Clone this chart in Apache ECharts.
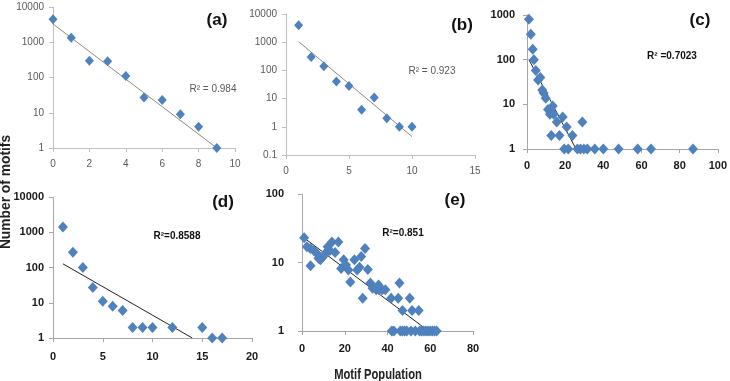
<!DOCTYPE html>
<html>
<head>
<meta charset="utf-8">
<script src="https://cdn.jsdelivr.net/npm/echarts@6/dist/echarts.min.js"></script>
<style>
  html, body { margin: 0; padding: 0; background: #fff; }
  #main { width: 730px; height: 381px; }
</style>
</head>
<body>
<div id="main"></div>
<script>
// panel (a)
var aX = [0, 1, 2, 3, 4, 5, 6, 7, 8, 9];
var aY = [4500, 1350, 300, 290, 110, 27, 23, 9, 4, 1];
var aTrendX = [0, 9];
var aTrendY = [3300, 1];

// panel (b)
var bX = [1, 2, 3, 4, 5, 6, 7, 8, 9, 10];
var bY = [4000, 300, 140, 40, 28, 4, 11, 2, 1, 1];
var bTrendX = [1, 10];
var bTrendY = [1050, 0.45];

// panel (c)
var cX = [1, 2, 3, 3.6, 4.6, 5.8, 7, 8, 8.7, 9.8, 11, 12, 12.7, 13.5, 14, 15.6, 17, 18.7, 20.8, 23.8, 29,
          19.5, 21.6, 26.4, 28, 29.8, 31.6, 35.5, 40, 48, 58, 65, 87];
var cY = [800, 370, 170, 100, 57, 35, 40, 21, 18, 13.6, 7.7, 6, 2, 9.2, 6, 4, 2, 5.2, 3.1, 2, 4,
          1, 1, 1, 1, 1, 1, 1, 1, 1, 1, 1, 1];
var cTrendX = [1, 25.7];
var cTrendY = [100, 1];

// panel (d)
var dX = [1, 2, 3, 4, 5, 6, 7, 8, 9, 10, 12, 15, 16, 17];
var dY = [1400, 270, 100, 27, 11, 8, 6, 2, 2, 2, 2, 2, 1, 1];
var dTrendX = [1, 14];
var dTrendY = [127, 1];

// panel (e)
var eX = [1, 2.3, 3.9, 5.5, 4, 7, 7.7, 8.6, 9.7, 10.5, 12, 13, 14, 15.5, 17, 11.7, 18.3, 19.5,
          20.6, 21.7, 22.6, 24.5, 25.8, 26.9, 27.7, 29.5, 30.8, 28.4, 32, 33, 34.7, 36, 37.5, 39,
          35.8, 41.7, 45, 45.6, 47, 50.4, 51.5, 54.6,
          42, 43, 46, 47, 48, 49, 51, 53, 55, 56, 57, 58, 59, 60, 61, 62, 63];
var eY = [23, 17, 16, 15, 9, 13.5, 11.5, 11, 12, 13, 17, 15, 20, 14, 20, 14.5, 8.2, 11,
          9.2, 7.8, 5.2, 11, 7.8, 8.5, 12.2, 16, 7.9, 3, 5, 4.2, 4, 4, 4, 4,
          4.7, 3, 3, 5, 2, 3, 2, 2,
          1, 1, 1, 1, 1, 1, 1, 1, 1, 1, 1, 1, 1, 1, 1, 1, 1];
var eTrendX = [0.3, 59.2];
var eTrendY = [23.7, 1];

var panelLabels = ['(a)', '(b)', '(c)', '(d)', '(e)'];
var r2Labels = ['R\u00b2 = 0.984', 'R\u00b2 = 0.923', 'R\u00b2 =0.7023', 'R\u00b2=0.8588', 'R\u00b2=0.851'];

var echart = echarts.init(document.getElementById('main'));

function pairs(xs, ys) {
    return xs.map(function (x, i) { return [x, ys[i]]; });
}
function logFmt(v) {
    return String(Math.round(v * 10) / 10);
}

var light = { color: '#595959', fontSize: 10, fontFamily: 'Liberation Sans' };
var bold = { color: '#1a1a1a', fontSize: 11, fontWeight: 'bold', fontFamily: 'Liberation Sans' };

var panels = [
    { grid: { left: 53, top: 7, width: 182, height: 141 }, x: [0, 10, 2], y: [1, 10000], st: light, axc: '#bfbfbf',
      xs: aX, ys: aY, tx: aTrendX, ty: aTrendY, lc: '#8c8a7c', ym: 9, xm: 11, ms: [9, 10] },
    { grid: { left: 286, top: 14, width: 189, height: 141 }, x: [0, 15, 5], y: [0.1, 10000], st: light, axc: '#bfbfbf',
      xs: bX, ys: bY, tx: bTrendX, ty: bTrendY, lc: '#8c8a7c', ym: 9, xm: 11, ms: [9, 10] },
    { grid: { left: 527, top: 15, width: 194, height: 134 }, x: [0, 100, 20], y: [1, 1000], st: bold, axc: '#a6a6a6',
      xs: cX, ys: cY, tx: cTrendX, ty: cTrendY, lc: '#222', ym: 12, xm: 11, ms: [10, 11] },
    { grid: { left: 53, top: 197, width: 199, height: 141 }, x: [0, 20, 5], y: [1, 10000], st: bold, axc: '#a6a6a6',
      xs: dX, ys: dY, tx: dTrendX, ty: dTrendY, lc: '#222', ym: 9, xm: 13, ms: [10, 11] },
    { grid: { left: 302, top: 194, width: 171, height: 137 }, x: [0, 80, 20], y: [1, 100], st: bold, axc: '#a6a6a6',
      xs: eX, ys: eY, tx: eTrendX, ty: eTrendY, lc: '#222', ym: 18, xm: 12, ms: [10, 11] }
];

var grids = [], xAxes = [], yAxes = [], series = [];
panels.forEach(function (p, i) {
    grids.push(p.grid);
    xAxes.push({
        type: 'value', gridIndex: i, min: p.x[0], max: p.x[1], interval: p.x[2],
        splitLine: { show: false },
        axisLine: { lineStyle: { color: p.axc } },
        axisTick: { show: true, length: 4, lineStyle: { color: p.axc } },
        axisLabel: Object.assign({ margin: p.xm }, p.st)
    });
    yAxes.push({
        type: 'log', logBase: 10, gridIndex: i, min: p.y[0], max: p.y[1],
        splitLine: { show: false },
        axisLine: { show: true, lineStyle: { color: p.axc } },
        axisTick: { show: true, length: 4, lineStyle: { color: p.axc } },
        axisLabel: Object.assign({ margin: p.ym, formatter: logFmt }, p.st)
    });
    series.push({
        type: 'line', xAxisIndex: i, yAxisIndex: i, data: pairs(p.tx, p.ty),
        symbol: 'none', lineStyle: { color: p.lc, width: 1 }, z: 1
    });
    series.push({
        type: 'scatter', xAxisIndex: i, yAxisIndex: i, data: pairs(p.xs, p.ys),
        symbol: 'diamond', symbolSize: p.ms, itemStyle: { color: '#4f81bd', opacity: 1 }, z: 2
    });
});

function txt(x, y, s, style, rot, sx) {
    return {
        type: 'text', x: x, y: y, rotation: rot || 0, scaleX: sx || 1,
        style: Object.assign({ text: s, align: 'center', verticalAlign: 'middle' }, style)
    };
}
var lblStyle = { font: 'bold 17px "Liberation Sans"', fill: '#111' };
var r2Light = { font: '10px "Liberation Sans"', fill: '#595959' };
var r2Bold = { font: 'bold 10px "Liberation Sans"', fill: '#111' };
var titleStyle = { font: 'bold 14px "Liberation Sans"', fill: '#222' };
var yTitleStyle = { font: 'bold 15px "Liberation Sans"', fill: '#222' };

var graphic = [
    txt(217, 20, panelLabels[0], lblStyle),
    txt(462, 25, panelLabels[1], lblStyle),
    txt(700, 20, panelLabels[2], lblStyle),
    txt(223, 202, panelLabels[3], lblStyle),
    txt(455, 200, panelLabels[4], lblStyle),
    txt(213, 89, r2Labels[0], r2Light),
    txt(432, 71, r2Labels[1], r2Light),
    txt(672, 56, r2Labels[2], r2Bold),
    txt(177, 236, r2Labels[3], r2Bold),
    txt(403, 233, r2Labels[4], r2Bold),
    txt(378, 375, 'Motif Population', titleStyle, 0, 0.8),
    txt(6, 192, 'Number of motifs', yTitleStyle, Math.PI / 2, 0.92)
];

var option = {
    animation: false,
    grid: grids,
    xAxis: xAxes,
    yAxis: yAxes,
    series: series,
    graphic: graphic
};
echart.setOption(option);
</script>
</body>
</html>
